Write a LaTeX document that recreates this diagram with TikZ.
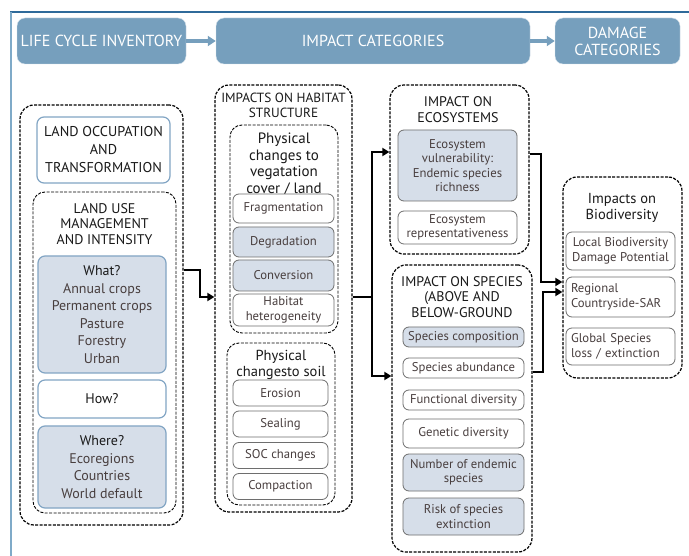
\documentclass[tikz,border=0pt]{standalone}
\usepackage{fontspec}
\setmainfont{PT Sans}
\usetikzlibrary{arrows.meta}
\definecolor{hdrblue}{RGB}{118,159,189}
\definecolor{topline}{RGB}{47,106,154}
\definecolor{sideline}{RGB}{127,170,200}
\definecolor{boxline}{RGB}{130,165,196}
\definecolor{lightfill}{RGB}{214,222,233}
\definecolor{itemline}{RGB}{110,110,110}
\definecolor{itemtext}{RGB}{72,62,62}
\begin{document}
\begin{tikzpicture}[x=1pt,y=-1pt,
    header/.style={fill=hdrblue,draw=white!70!hdrblue,rounded corners=8pt,text=white,align=center,
      font=\fontsize{16}{17}\selectfont,minimum height=46pt,inner sep=0pt},
    hdrarrow/.style={draw=hdrblue,line width=4pt,-{Triangle[length=8pt,width=10pt]}},
    group/.style={draw,dashed,dash pattern=on 3pt off 1.4pt,line width=1.2pt,rounded corners=14pt,inner sep=0pt},
    title/.style={align=center,inner sep=0pt,text=black!90,font=\fontsize{14}{15.5}\selectfont},
    bluebox/.style={draw=boxline,line width=1.2pt,rounded corners=7pt,align=center,inner sep=0pt,
      text=itemtext,font=\fontsize{14}{17.5}\selectfont},
    item/.style={draw=itemline,line width=0.8pt,rounded corners=6pt,align=center,inner sep=0pt,
      text=itemtext,font=\fontsize{12.7}{14.5}\selectfont,fill=white},
    shaded/.style={fill=lightfill},
    conn/.style={line width=2.6pt,-{Triangle[length=7pt,width=8pt]}}
  ]
  \useasboundingbox (0,0) rectangle (689,556);
  \fill[white] (0,0) rectangle (689,556);

  % frame
  \draw[topline,line width=1.2pt] (10,12) -- (689,12);
  \draw[sideline,line width=2pt] (11,12) -- (11,556);

  % header row
  \node[header,minimum width=169pt] (lci) at (101.5,41) {LIFE CYCLE INVENTORY};
  \node[header,minimum width=314pt] (icat) at (373,41) {IMPACT CATEGORIES};
  \node[header,minimum width=125pt] (dcat) at (617.5,41) {DAMAGE\\CATEGORIES};
  \draw[hdrarrow] (lci.east) -- (icat.west);
  \draw[hdrarrow] (icat.east) -- (dcat.west);

  % life cycle inventory column
  \node[group,minimum width=163pt,minimum height=420pt] (lu) at (101.5,315) {};
  \node[bluebox,minimum width=133pt,minimum height=66pt,text=black!90,font=\fontsize{14.2}{18}\selectfont] (occ) at (103.5,150) {LAND OCCUPATION\\AND\\TRANSFORMATION};
  \node[group,minimum width=143pt,minimum height=321pt,rounded corners=12pt,line width=0.9pt] (lum) at (104.5,352.5) {};
  \node[title] (lumt) at (104.5,224) {LAND USE\\MANAGEMENT\\AND INTENSITY};
  \node[bluebox,shaded,minimum width=128pt,minimum height=117pt] (what) at (102,314.5)
    {{\color{black!90}What?}\\Annual crops\\Permanent crops\\Pasture\\Forestry\\Urban};
  \node[bluebox,fill=white,minimum width=128pt,minimum height=38pt,text=black!90] (how) at (102,399) {How?};
  \node[bluebox,shaded,minimum width=128pt,minimum height=82pt] (where) at (102,467)
    {{\color{black!90}Where?}\\Ecoregions\\Countries\\World default};

  % habitat structure column
  \node[group,minimum width=137pt,minimum height=427pt] (hab) at (283.5,298.5) {};
  \node[title,font=\fontsize{13.3}{15}\selectfont] (habt) at (283.5,105.5) {IMPACTS ON HABITAT\\STRUCTURE};
  \node[group,minimum width=108pt,minimum height=208pt,line width=0.9pt,rounded corners=12pt] (veg) at (284,229) {};
  \node[title,font=\fontsize{15}{16.5}\selectfont] (vegt) at (284,164) {Physical\\changes to\\vegatation\\cover / land};
  \node[item,minimum width=101pt,minimum height=29pt] (frag) at (283.5,208.5) {Fragmentation};
  \node[item,shaded,minimum width=101pt,minimum height=30pt] (degr) at (283.5,242) {Degradation};
  \node[item,shaded,minimum width=101pt,minimum height=31pt] (conv) at (283.5,275.5) {Conversion};
  \node[item,minimum width=101pt,minimum height=32pt] (het) at (283.5,310) {Habitat\\heterogeneity};
  \node[group,minimum width=108pt,minimum height=162pt,line width=0.9pt,rounded corners=12pt] (soil) at (281,424) {};
  \node[title,font=\fontsize{14.5}{16}\selectfont] (soilt) at (281,365) {Physical\\changesto soil};
  \node[item,minimum width=95pt,minimum height=26pt] (eros) at (280.5,393) {Erosion};
  \node[item,minimum width=95pt,minimum height=26pt] (seal) at (280.5,424) {Sealing};
  \node[item,minimum width=95pt,minimum height=26pt] (soc) at (280.5,455.5) {SOC changes};
  \node[item,minimum width=95pt,minimum height=26pt] (comp) at (280.5,486.5) {Compaction};

  % ecosystems and species column
  \node[group,minimum width=139pt,minimum height=169pt] (eco) at (459.5,169.5) {};
  \node[title] (ecot) at (458,109.5) {IMPACT ON\\ECOSYSTEMS};
  \node[item,shaded,minimum width=119pt,minimum height=71pt] (vuln) at (457.5,165.5)
    {Ecosystem\\vulnerability:\\Endemic species\\richness};
  \node[item,minimum width=119pt,minimum height=33pt] (repr) at (457.5,227.5) {Ecosystem\\representativeness};
  \node[group,minimum width=140pt,minimum height=287pt] (spec) at (462,408.5) {};
  \node[title] (spect) at (462,297) {IMPACT ON SPECIES\\(ABOVE AND\\BELOW-GROUND};
  \node[item,shaded,minimum width=121pt,minimum height=20pt] (scomp) at (463.5,337) {Species composition};
  \node[item,minimum width=121pt,minimum height=20pt] (sabun) at (463.5,368) {Species abundance};
  \node[item,minimum width=121pt,minimum height=20pt] (func) at (463.5,400) {Functional diversity};
  \node[item,minimum width=121pt,minimum height=29pt] (gen) at (463.5,433.5) {Genetic diversity};
  \node[item,shaded,minimum width=121pt,minimum height=37pt] (nend) at (463.5,472.5) {Number of endemic\\species};
  \node[item,shaded,minimum width=121pt,minimum height=37pt] (risk) at (463.5,516.5) {Risk of species\\extinction};

  % damage column
  \node[group,minimum width=119pt,minimum height=201pt] (bio) at (622.5,277.5) {};
  \node[title,font=\fontsize{14.5}{15.5}\selectfont] (biot) at (622,208) {Impacts on\\Biodiversity};
  \node[item,minimum width=109pt,minimum height=38pt] (lbdp) at (620.5,251) {Local Biodiversity\\Damage Potential};
  \node[item,minimum width=109pt,minimum height=40pt,align=left,text width=99pt] (reg) at (620.5,297) {Regional\\Countryside-SAR};
  \node[item,minimum width=109pt,minimum height=37pt,align=left,text width=99pt] (glob) at (620.5,346.5) {Global Species\\loss / extinction};

  % connectors
  \draw[conn] (lu.east |- 0,270) -| (200,297) -- (hab.west |- 0,297);
  \draw[conn] (hab.east |- 0,297) -| (372,152) -- (eco.west |- 0,152);
  \draw[conn] (372,297) |- (spec.west |- 0,376);
  \draw[conn] (eco.east |- 0,154) -| (541,282) -- (bio.west |- 0,282);
  \draw[conn] (spec.east |- 0,372) -| (543,292) -- (bio.west |- 0,292);
\end{tikzpicture}
\end{document}
